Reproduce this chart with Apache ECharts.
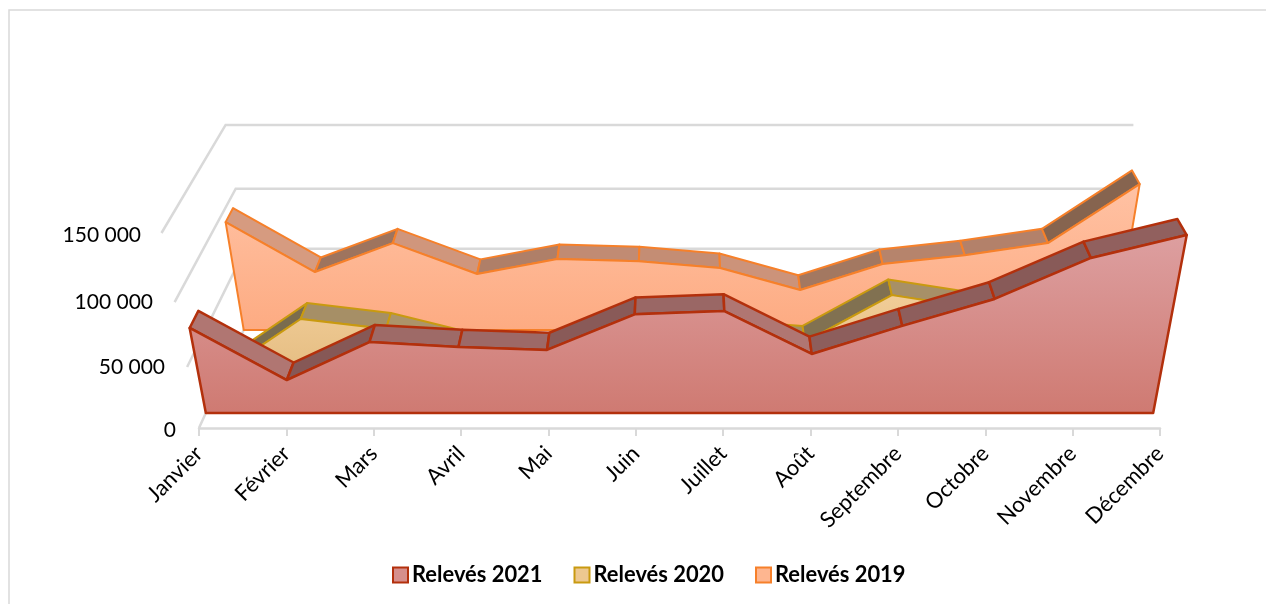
<!DOCTYPE html>
<html><head><meta charset="utf-8">
<script src="https://cdn.jsdelivr.net/npm/echarts@6/dist/echarts.min.js"></script>
<style>html,body{margin:0;background:#fff}#c{width:1266px;height:604px}</style></head>
<body><div id="c"></div>
<script>
const months = ['Janvier','Février','Mars','Avril','Mai','Juin','Juillet','Août','Septembre','Octobre','Novembre','Décembre'];
const releves2021 = [69400,27600,58300,54400,52000,80000,82500,48800,71000,91800,122400,139000];
const releves2020 = [0,43000,34600,17000,17000,25000,28700,23700,62500,52000,75000,100000];
const releves2019 = [91000,50000,74000,48400,60900,59000,53400,34800,56700,64000,74000,121000];
const yTicks = [0,50000,100000,150000];
const yTickLabels = ['0','50 000','100 000','150 000'];
const FONT = 'Lato, Carlito, sans-serif';

// Perspective of the 3D box: t = height fraction of the axis, d = depth fraction
const CAM = {riseY:1.107, backY:82, alphaY:0.0895, alphaX:0.0724, beta:0.131};
const DEPTH = {r2021:0.11, r2020:0.447, r2019:0.783, thick:0.135};

function project(api, idx, val, d){
  const p = api.coord([idx, val]), o0 = api.coord([0,0]), o1 = api.coord([months.length-1,0]), top = api.coord([0,150000]);
  const H = o0[1]-top[1], cx = (o0[0]+o1[0])/2, t = (o0[1]-p[1])/H;
  const y = (o0[1]-CAM.riseY*H*t-CAM.backY*d)/(1-CAM.alphaY*t+CAM.beta*d);
  const x = cx+(p[0]-cx)/(1-CAM.alphaX*t+CAM.beta*d);
  return [x,y];
}
function lerpColor(a,b,s){
  const h=c=>[1,3,5].map(i=>parseInt(c.substr(i,2),16));
  const A=h(a),B=h(b);
  return 'rgb('+A.map((v,i)=>Math.round(v+(B[i]-v)*s)).join(',')+')';
}
function shade(st, slope){
  if(slope<0) return lerpColor(st.flat,st.rise,Math.min(1,-slope/0.65));
  return lerpColor(st.flat,st.fall,Math.min(1,slope/0.5));
}
function areaSeries(name, values, d0, st){
  return {
    type:'custom', name, coordinateSystem:'cartesian2d', silent:true, clip:false,
    itemStyle:{color:st.top,borderColor:st.line},
    encode:{x:0,y:1},
    data: values.map((v,i)=>[i,v]),
    renderItem(params, api){
      const i = api.value(0), children=[];
      if(i < values.length-1){
        const a0=project(api,i,values[i],d0), b0=project(api,i+1,values[i+1],d0),
              a1=project(api,i,values[i],d0+DEPTH.thick), b1=project(api,i+1,values[i+1],d0+DEPTH.thick);
        const slope=(b0[1]-a0[1])/(b0[0]-a0[0]);
        children.push({type:'polygon',shape:{points:[a0,b0,b1,a1]},
          style:{fill:shade(st,slope),stroke:st.line,lineWidth:st.w,lineJoin:'round'}});
      } else {
        const pts=values.map((v,k)=>project(api,k,v,d0));
        pts.push(project(api,values.length-1,0,d0));
        pts.push(project(api,0,0,d0));
        children.push({type:'polygon',shape:{points:pts},
          style:{fill:new echarts.graphic.LinearGradient(0,st.y0,0,st.y1,[{offset:0,color:st.top},{offset:1,color:st.bottom}],true),
                 stroke:st.line,lineWidth:st.w,lineJoin:'round'}});
      }
      return {type:'group',children};
    }
  };
}
const wallSeries = {
  type:'custom', name:'murs', silent:true, clip:false, coordinateSystem:'cartesian2d',
  data: yTicks.map(v=>[0,v]),
  renderItem(params, api){
    const v=api.value(1);
    const a=project(api,0,v,0), b=project(api,0,v,1), c=project(api,months.length-1,v,1);
    return {type:'polyline',shape:{points:[a,b,c]},style:{fill:null,stroke:'#d9d9d9',lineWidth:2.5}};
  }
};
const labelShift = {'0':[4,0],'50 000':[8,11],'100 000':[8,23],'150 000':[4,35]};
const rich = {};
yTickLabels.forEach((l,i)=>{ rich['t'+i]={padding:[labelShift[l][0],labelShift[l][1],0,0],fontSize:21,fontFamily:FONT,color:'#000'}; });

const chart = echarts.init(document.getElementById('c'),null,{renderer:'canvas'});
const colors = {
  r2021:{top:'#dd9fa0',bottom:'#cf7a72',y0:235,y1:413,line:'#b3300c',w:2.5,rise:'#7d5250',flat:'#9c6866',fall:'#b07672'},
  r2020:{top:'#f3d09c',bottom:'#e5bd82',y0:280,y1:372,line:'#c99a10',w:2,rise:'#7a6c4e',flat:'#a08a62',fall:'#b89e72'},
  r2019:{top:'#ffc2a4',bottom:'#fdab82',y0:184,y1:330,line:'#f6802a',w:2,rise:'#85644f',flat:'#c08a72',fall:'#d69b80'}
};
chart.setOption({
  animation:false,
  backgroundColor:'#fff',
  graphic:[{type:'rect',shape:{x:9,y:10,width:1300,height:620},style:{fill:null,stroke:'#d9d9d9',lineWidth:1.5},silent:true,z:-1}],
  grid:{left:199,width:961,top:233,height:195,containLabel:false},
  xAxis:{type:'category',data:months,boundaryGap:false,
    axisLine:{lineStyle:{color:'#d9d9d9',width:2.5}},
    axisTick:{show:true,length:8,alignWithLabel:true,lineStyle:{color:'#d9d9d9',width:2}},
    axisLabel:{interval:0,rotate:45,margin:22,fontSize:22,fontFamily:FONT,color:'#000'}},
  yAxis:{type:'value',min:0,max:150000,interval:50000,
    axisLine:{show:false},axisTick:{show:false},splitLine:{show:false},
    axisLabel:{margin:23,rich,formatter(v){const i=yTicks.indexOf(v);return '{t'+i+'|'+yTickLabels[i]+'}';}}},
  legend:{left:387,top:559,itemWidth:15,itemHeight:15,itemGap:31,icon:'rect',selectedMode:false,
    textStyle:{fontSize:21.9,fontWeight:'bold',fontFamily:FONT,color:'#000',padding:[0,0,0,-1]},
    data:[
      {name:'Relevés 2021',itemStyle:{color:'#d68f8c',borderColor:'#b3300c',borderWidth:2}},
      {name:'Relevés 2020',itemStyle:{color:'#edc890',borderColor:'#c99a10',borderWidth:2}},
      {name:'Relevés 2019',itemStyle:{color:'#feb690',borderColor:'#f6802a',borderWidth:2}}
    ]},
  series:[
    wallSeries,
    areaSeries('Relevés 2019',releves2019,DEPTH.r2019,colors.r2019),
    areaSeries('Relevés 2020',releves2020,DEPTH.r2020,colors.r2020),
    areaSeries('Relevés 2021',releves2021,DEPTH.r2021,colors.r2021)
  ]
});
</script></body></html>
